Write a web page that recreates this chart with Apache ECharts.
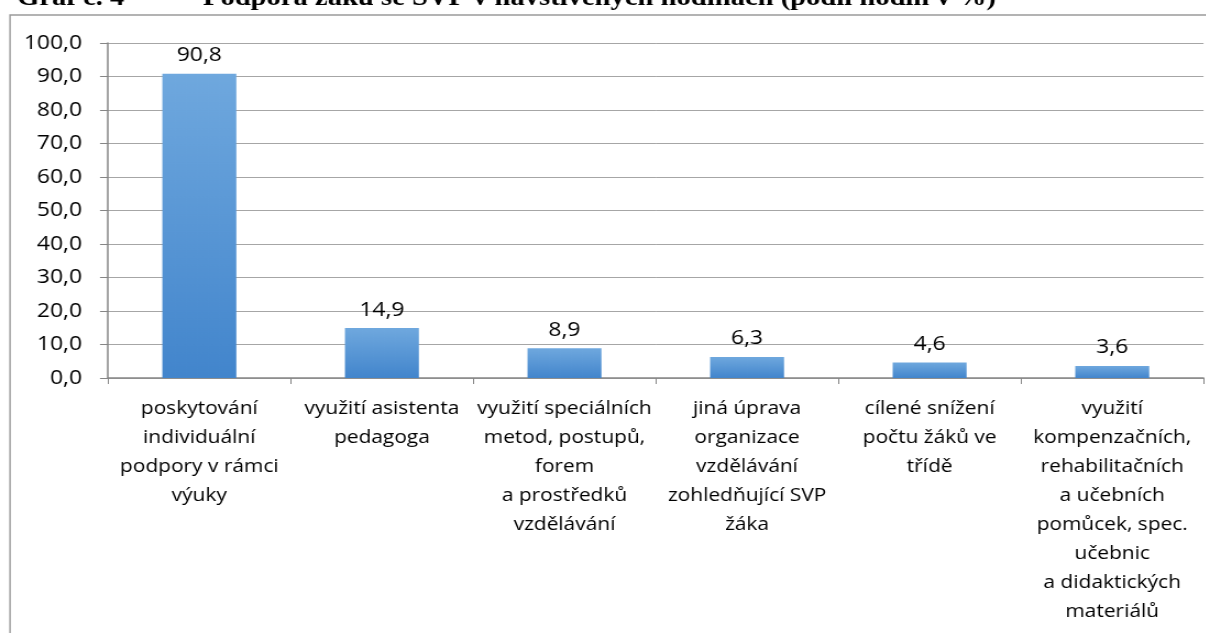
<!DOCTYPE html>
<html>
<head>
<meta charset="utf-8">
<title>Graf č. 4</title>
<script src="https://cdn.jsdelivr.net/npm/echarts@6/dist/echarts.min.js"></script>
<style>
  html, body { margin: 0; padding: 0; background: #fff; overflow: hidden; }
  /* the source picture is stretched sideways, so the chart is drawn narrower and scaled */
  #chart { width: 1096px; height: 633px; transform: scaleX(1.1); transform-origin: 0 0; }
</style>
</head>
<body>
<div id="chart"></div>
<script>
// kategorie (zalomení řádků podle předlohy)
var categories = [
  "poskytování\nindividuální\npodpory v rámci\nvýuky",
  "využití asistenta\npedagoga",
  "využití speciálních\nmetod, postupů,\nforem\na prostředků\nvzdělávání",
  "jiná úprava\norganizace\nvzdělávání\nzohledňující SVP\nžáka",
  "cílené snížení\npočtu žáků ve\ntřídě",
  "využití\nkompenzačních,\nrehabilitačních\na učebních\npomůcek, spec.\nučebnic\na didaktických\nmateriálů"
];
// podíl hodin v %
var values = [90.8, 14.9, 8.9, 6.3, 4.6, 3.6];
// osa y
var yMin = 0;
var yMax = 100;
var yStep = 10;

var titleNum = "Graf č. 4";
var titleText = "Podpora žáků se SVP v navštívených hodinách (podíl hodin v %)";

function czNum(v) {
  return Number(v).toFixed(1).replace(".", ",");
}

var myChart = echarts.init(document.getElementById("chart"));
var font = "'Open Sans', 'Noto Sans', sans-serif";

var option = {
  animation: false,
  backgroundColor: "#fff",
  graphic: [
    {
      type: "rect",
      shape: { x: 9.1, y: 15, width: 1200, height: 800 },
      style: { fill: "none", stroke: "#9a9a9a", lineWidth: 1.4 },
      silent: true
    },
    {
      type: "text",
      x: 15.5,
      y: 11,
      style: {
        text: titleNum,
        font: "bold 26px 'Liberation Serif', serif",
        fill: "#000",
        verticalAlign: "bottom"
      }
    },
    {
      type: "text",
      x: 184.5,
      y: 11,
      style: {
        text: titleText,
        font: "bold 26px 'Liberation Serif', serif",
        fill: "#000",
        verticalAlign: "bottom"
      }
    }
  ],
  grid: {
    left: 98.2,
    right: 1.9,
    top: 43,
    bottom: 255
  },
  xAxis: {
    type: "category",
    data: categories,
    axisLine: { show: true, lineStyle: { color: "#868686", width: 1.5 } },
    axisTick: { show: true, length: 6, lineStyle: { color: "#868686" } },
    axisLabel: {
      interval: 0,
      margin: 16,
      color: "#000",
      fontFamily: font,
      fontSize: 19,
      lineHeight: 29,
      align: "center"
    },
    splitLine: { show: false }
  },
  yAxis: {
    type: "value",
    min: yMin,
    max: yMax,
    interval: yStep,
    axisLine: { show: true, lineStyle: { color: "#868686", width: 1.5 } },
    axisTick: { show: true, length: 7.3, lineStyle: { color: "#868686" } },
    axisLabel: {
      margin: 23.6,
      color: "#000",
      fontFamily: font,
      fontSize: 20.8,
      formatter: czNum
    },
    splitLine: { show: true, lineStyle: { color: "#a6a6a6", width: 1 } }
  },
  series: [
    {
      type: "bar",
      data: values,
      barWidth: "40.5%",
      itemStyle: {
        color: new echarts.graphic.LinearGradient(0, 0, 0, 1, [
          { offset: 0, color: "#6fa8de" },
          { offset: 1, color: "#4285cc" }
        ])
      },
      label: {
        show: true,
        position: "top",
        distance: 8,
        color: "#000",
        fontFamily: font,
        fontSize: 20.8,
        formatter: function (p) { return czNum(p.value); }
      }
    }
  ]
};
myChart.setOption(option);
</script>
</body>
</html>
